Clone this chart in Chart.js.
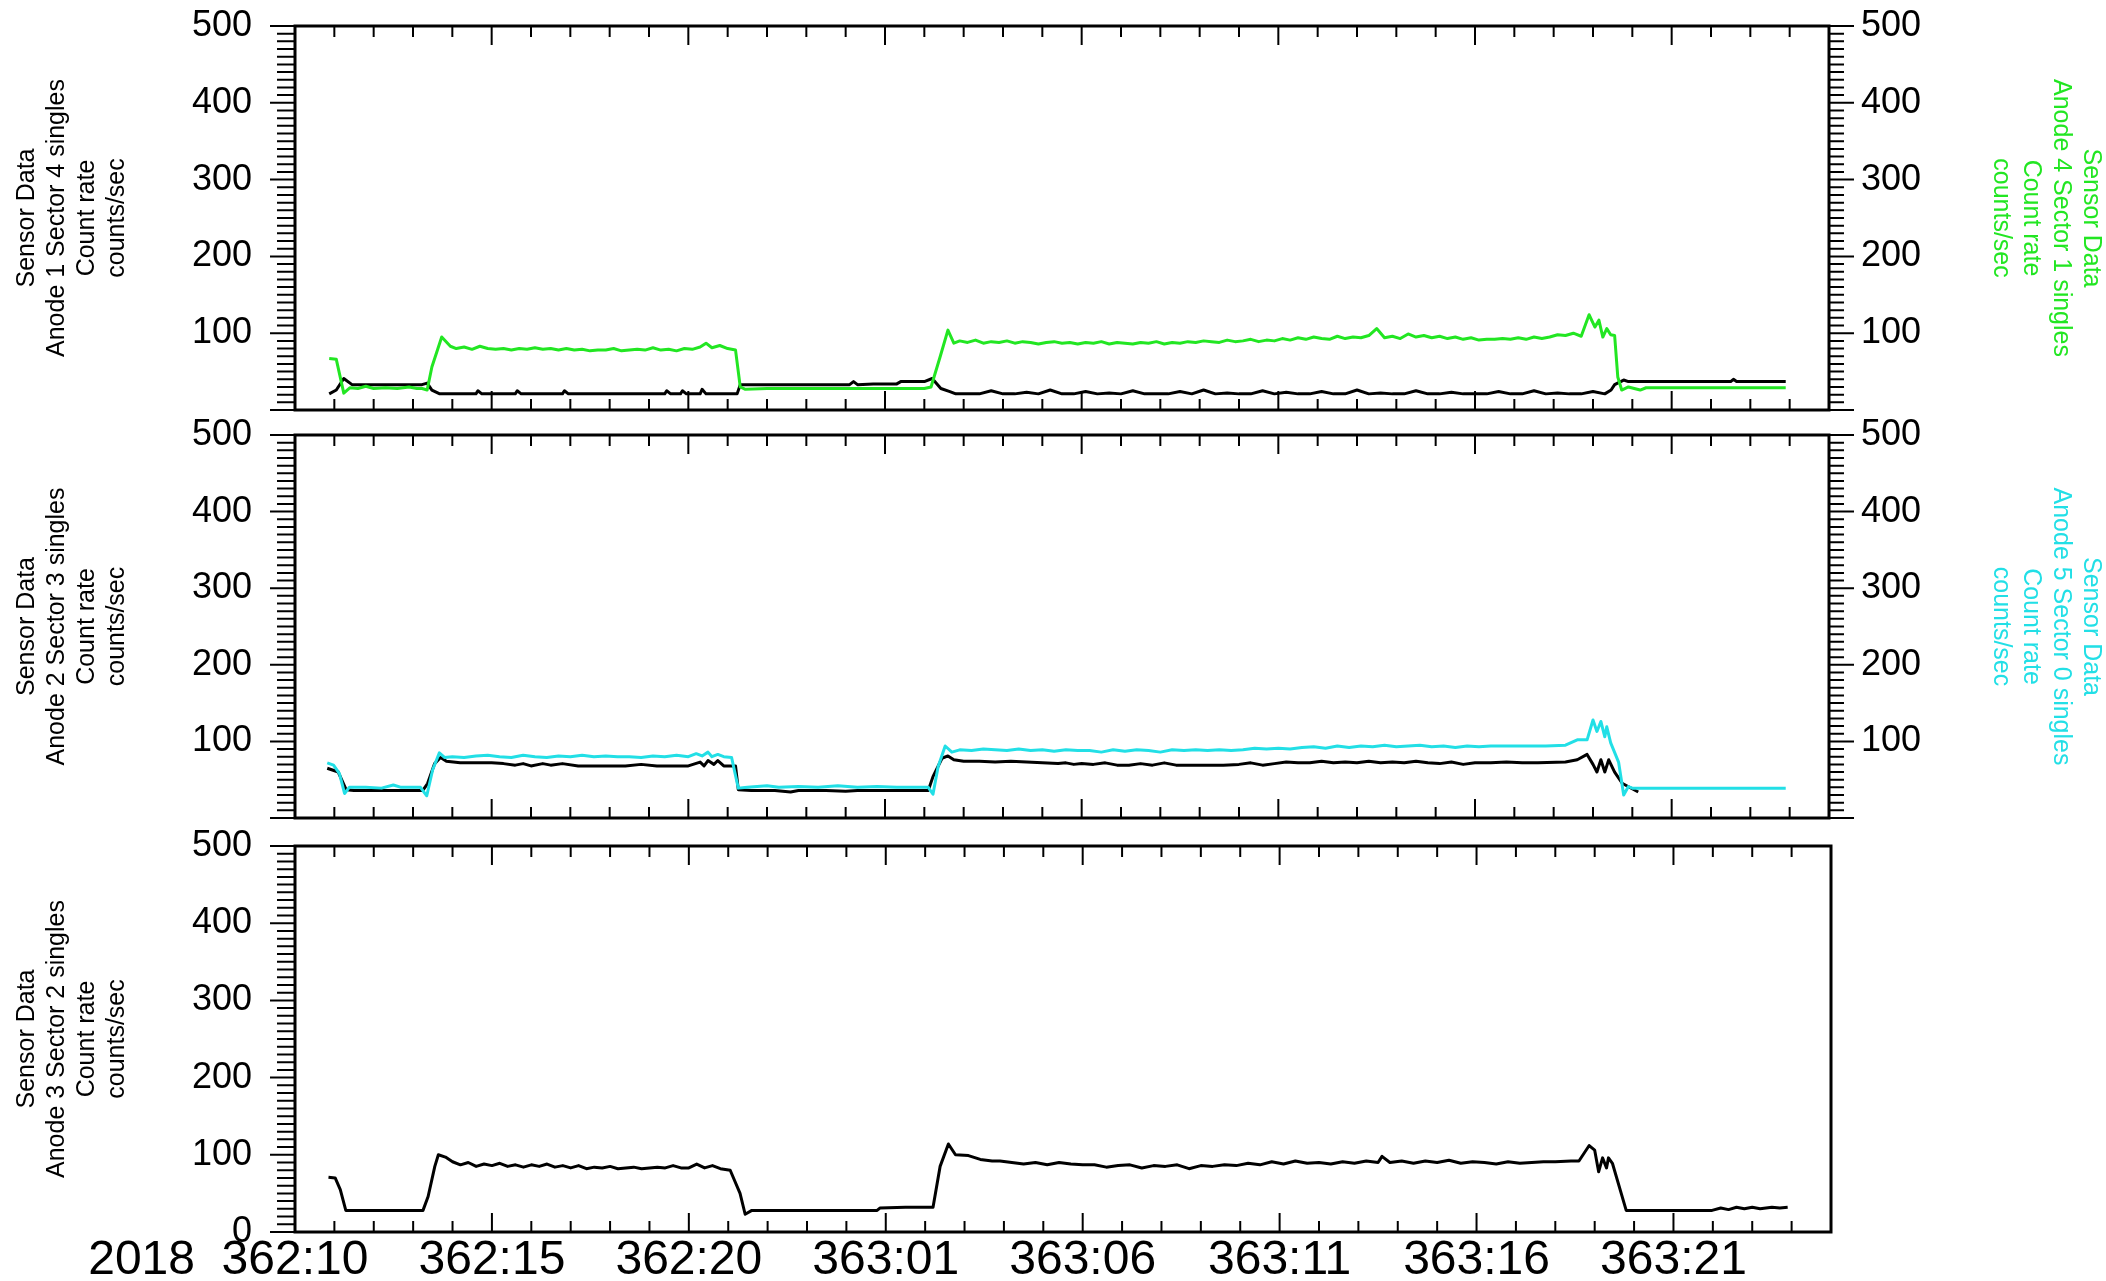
<!DOCTYPE html>
<html>
<head>
<meta charset="utf-8">
<title>Sensor Data count rates</title>
<script src="https://cdn.jsdelivr.net/npm/chart.js@4.4.1/dist/chart.umd.min.js"></script>
<style>
  html, body { margin: 0; padding: 0; background: #fff; }
  body { width: 2106px; height: 1281px; position: relative; overflow: hidden; }
  canvas { position: absolute; left: 0; }
</style>
</head>
<body>
<canvas id="panel1" width="2106" height="430" style="top:0px"></canvas>
<canvas id="panel2" width="2106" height="440" style="top:400px"></canvas>
<canvas id="panel3" width="2106" height="481" style="top:800px"></canvas>
<script>
const FONT = "'Liberation Sans', Arial, Helvetica, sans-serif";
const GREEN = '#22e622';
const CYAN = '#22dfe6';

// x is hours after 362:10 (day:hour), axis ends at 364:01
const hourMin = 0;
const hourMax = 39;
const timeTicks = [0, 5, 10, 15, 20, 25, 30, 35];
const timeLabels = ['362:10', '362:15', '362:20', '363:01', '363:06', '363:11', '363:16', '363:21'];
const yearLabel = '2018';
const rateTicks = [0, 100, 200, 300, 400, 500];

// [hour, counts/sec]
// Anode 1 Sector 4 singles
const a1s4 = [
  [0.87, 21], [1.05, 26], [1.24, 41], [1.45, 33], [2.0, 33], [2.6, 33], [3.23, 33], [3.36, 35], [3.48, 26], [3.68, 21],
  [4.6, 21], [4.65, 25], [4.75, 21], [5.6, 21], [5.65, 25], [5.75, 21], [6.8, 21], [6.85, 25], [6.95, 21],
  [9.4, 21], [9.45, 25], [9.55, 21], [9.8, 21], [9.85, 25], [9.95, 21], [10.3, 21], [10.35, 27], [10.45, 21],
  [11.24, 21], [11.32, 33], [12.5, 33], [14.1, 33], [14.2, 37], [14.3, 33], [14.7, 34], [15.3, 34], [15.4, 37], [16.0, 37],
  [16.2, 41], [16.42, 28], [16.65, 24], [16.8, 21],
  [17.1, 21], [17.4, 21], [17.7, 25], [18.0, 21], [18.3, 21], [18.6, 23], [18.9, 21], [19.2, 26], [19.5, 21], [19.8, 21],
  [20.1, 24], [20.4, 21], [20.7, 22], [21.0, 21], [21.3, 25], [21.6, 21], [21.9, 21], [22.2, 21], [22.5, 24], [22.8, 21],
  [23.1, 26], [23.4, 21], [23.7, 22], [24.0, 21], [24.3, 21], [24.6, 25], [24.9, 21], [25.2, 23], [25.5, 21], [25.8, 21],
  [26.1, 24], [26.4, 21], [26.7, 21], [27.0, 26], [27.3, 21], [27.6, 22], [27.9, 21], [28.2, 21], [28.5, 25], [28.8, 21],
  [29.1, 21], [29.4, 23], [29.7, 21], [30.0, 21], [30.3, 21], [30.6, 24], [30.9, 21], [31.2, 21], [31.5, 25], [31.8, 21],
  [32.1, 22], [32.4, 21], [32.7, 21], [33.0, 24], [33.3, 21],
  [33.46, 26], [33.55, 33], [33.78, 39], [33.9, 37], [36.5, 37], [36.57, 40], [36.65, 37], [37.9, 37]
];

// Anode 4 Sector 1 singles
const a4s1 = [
  [0.87, 67], [1.05, 66], [1.24, 22], [1.4, 29], [1.6, 28], [1.8, 31], [2.0, 28], [2.3, 29], [2.6, 28], [2.9, 30],
  [3.1, 28], [3.23, 28], [3.36, 26], [3.48, 56], [3.73, 95], [3.95, 83],
  [4.1, 80], [4.3, 82], [4.5, 79], [4.7, 83], [4.9, 80], [5.1, 79], [5.3, 80], [5.5, 78], [5.7, 80], [5.9, 79],
  [6.1, 81], [6.3, 79], [6.5, 80], [6.7, 78], [6.9, 80], [7.1, 78], [7.3, 79], [7.5, 77], [7.7, 78], [7.9, 78],
  [8.1, 80], [8.3, 77], [8.5, 78], [8.7, 79], [8.9, 78], [9.1, 81], [9.3, 78], [9.5, 79], [9.7, 77], [9.9, 80],
  [10.1, 79], [10.3, 82], [10.45, 87], [10.6, 81], [10.8, 84], [11.0, 80], [11.2, 78],
  [11.32, 30], [11.45, 27], [12.0, 28], [13.0, 28], [14.0, 28], [15.0, 28], [16.0, 28], [16.17, 30],
  [16.4, 69], [16.6, 104], [16.75, 87],
  [16.9, 90], [17.1, 88], [17.3, 91], [17.5, 87], [17.7, 89], [17.9, 88], [18.1, 90], [18.3, 87], [18.5, 89], [18.7, 88],
  [18.9, 86], [19.1, 88], [19.3, 89], [19.5, 87], [19.7, 88], [19.9, 86], [20.1, 88], [20.3, 87], [20.5, 89], [20.7, 86],
  [20.9, 88], [21.1, 87], [21.3, 86], [21.5, 88], [21.7, 87], [21.9, 89], [22.1, 86], [22.3, 88], [22.5, 87], [22.7, 89],
  [22.9, 88], [23.1, 90], [23.3, 89], [23.5, 88], [23.7, 91], [23.9, 89], [24.1, 90], [24.3, 92], [24.5, 89], [24.7, 91],
  [24.9, 90], [25.1, 93], [25.3, 91], [25.5, 94], [25.7, 92], [25.9, 95], [26.1, 93], [26.3, 92], [26.5, 96], [26.7, 93],
  [26.9, 95], [27.1, 94], [27.3, 97], [27.5, 106], [27.7, 94], [27.9, 96], [28.1, 93], [28.3, 99], [28.5, 95], [28.7, 97],
  [28.9, 94], [29.1, 96], [29.3, 93], [29.5, 95], [29.7, 92], [29.9, 94], [30.1, 91], [30.3, 92], [30.5, 92], [30.7, 93],
  [30.9, 92], [31.1, 94], [31.3, 92], [31.5, 95], [31.7, 93], [31.9, 95], [32.1, 98], [32.3, 97], [32.5, 100], [32.7, 96],
  [32.9, 124], [33.05, 108], [33.15, 117], [33.25, 95], [33.35, 106], [33.45, 98], [33.55, 97],
  [33.63, 43], [33.73, 26], [33.9, 30], [34.2, 26], [34.35, 29], [35.0, 29], [36.0, 29], [37.0, 29], [37.9, 29]
];

// Anode 2 Sector 3 singles
const a2s3 = [
  [0.82, 65], [1.1, 60], [1.3, 37], [1.5, 36], [2.0, 36], [2.6, 36], [3.25, 36], [3.37, 45], [3.55, 71], [3.7, 79],
  [3.85, 74], [4.2, 72], [4.6, 72], [5.0, 72], [5.3, 71], [5.6, 69], [5.8, 71], [6.0, 68], [6.3, 71], [6.5, 69],
  [6.8, 71], [7.2, 68], [7.6, 68], [8.0, 68], [8.4, 68], [8.8, 70], [9.2, 68], [9.6, 68], [10.0, 68], [10.3, 73],
  [10.4, 68], [10.5, 75], [10.65, 70], [10.75, 75], [10.9, 68], [11.2, 68],
  [11.27, 37], [11.6, 36], [12.2, 36], [12.6, 34], [12.8, 36], [13.5, 36], [14.0, 35], [14.3, 36], [15.0, 36], [16.1, 36],
  [16.22, 54], [16.45, 78], [16.6, 81], [16.75, 76], [17.0, 74], [17.4, 74], [17.8, 73], [18.2, 74], [18.6, 73], [19.0, 72],
  [19.4, 71], [19.6, 72], [19.8, 70], [20.0, 71], [20.3, 70], [20.6, 72], [20.9, 69], [21.2, 69], [21.5, 71], [21.8, 69],
  [22.1, 72], [22.4, 69], [22.7, 69], [23.0, 69], [23.3, 69], [23.6, 69], [24.0, 70], [24.3, 72], [24.6, 69], [24.9, 71],
  [25.2, 73], [25.5, 72], [25.8, 72], [26.1, 74], [26.4, 72], [26.7, 73], [27.0, 72], [27.3, 74], [27.6, 72], [27.9, 73],
  [28.2, 72], [28.5, 74], [28.8, 72], [29.1, 71], [29.4, 73], [29.7, 70], [30.0, 72], [30.4, 72], [30.8, 73], [31.2, 72],
  [31.6, 72], [32.3, 73], [32.6, 76], [32.85, 83], [33.0, 70], [33.1, 60], [33.2, 76], [33.3, 60], [33.4, 76], [33.55, 60],
  [33.75, 45], [34.15, 34]
];

// Anode 5 Sector 0 singles
const a5s0 = [
  [0.82, 72], [0.98, 69], [1.13, 58], [1.26, 32], [1.38, 40], [1.8, 40], [2.2, 39], [2.5, 43], [2.7, 40], [3.19, 40],
  [3.35, 29], [3.5, 63], [3.67, 85], [3.8, 79], [4.0, 80], [4.3, 79], [4.6, 81], [4.9, 82], [5.2, 80], [5.5, 79],
  [5.8, 82], [6.1, 80], [6.4, 79], [6.7, 81], [7.0, 80], [7.3, 82], [7.6, 80], [7.9, 81], [8.2, 80], [8.5, 80],
  [8.8, 79], [9.1, 81], [9.4, 80], [9.7, 82], [10.0, 80], [10.2, 84], [10.35, 81], [10.5, 86], [10.6, 80], [10.75, 83],
  [10.9, 80], [11.1, 79],
  [11.27, 39], [11.5, 40], [12.0, 42], [12.3, 40], [12.8, 41], [13.3, 40], [13.8, 42], [14.3, 40], [14.8, 41], [15.3, 40],
  [16.1, 40], [16.22, 31], [16.35, 67], [16.53, 94], [16.7, 86], [16.9, 89], [17.2, 88], [17.5, 90], [17.8, 89], [18.1, 88],
  [18.4, 90], [18.7, 88], [19.0, 89], [19.3, 87], [19.6, 89], [19.9, 88], [20.2, 88], [20.5, 86], [20.8, 89], [21.1, 87],
  [21.4, 89], [21.7, 88], [22.0, 86], [22.3, 89], [22.6, 88], [22.9, 89], [23.2, 88], [23.5, 89], [23.8, 88], [24.1, 89],
  [24.4, 91], [24.7, 90], [25.0, 91], [25.3, 90], [25.6, 92], [25.9, 93], [26.2, 91], [26.5, 94], [26.8, 92], [27.1, 94],
  [27.4, 93], [27.7, 95], [28.0, 93], [28.3, 94], [28.6, 95], [28.9, 93], [29.2, 94], [29.5, 92], [29.8, 94], [30.1, 93],
  [30.4, 94], [30.7, 94], [31.0, 94], [31.4, 94], [31.8, 94], [32.3, 95], [32.6, 102], [32.85, 102], [33.0, 128], [33.1, 113],
  [33.2, 126], [33.3, 106], [33.35, 119], [33.45, 98], [33.65, 73], [33.78, 30], [33.9, 41], [34.0, 39], [35.0, 39], [36.0, 39],
  [37.0, 39], [37.9, 39]
];

// Anode 3 Sector 2 singles
const a3s2 = [
  [0.85, 71], [1.02, 70], [1.15, 55], [1.29, 28], [2.0, 28], [2.8, 28], [3.25, 28], [3.38, 46], [3.55, 85], [3.64, 100],
  [3.82, 97], [4.0, 91], [4.2, 87], [4.4, 90], [4.6, 85], [4.8, 88], [5.0, 86], [5.2, 89], [5.4, 85], [5.6, 87],
  [5.8, 84], [6.0, 87], [6.2, 85], [6.4, 88], [6.6, 84], [6.8, 86], [7.0, 83], [7.2, 86], [7.4, 82], [7.6, 84],
  [7.8, 83], [8.0, 85], [8.2, 82], [8.4, 83], [8.6, 84], [8.8, 82], [9.0, 83], [9.2, 84], [9.4, 83], [9.6, 86],
  [9.8, 83], [10.0, 83], [10.2, 88], [10.4, 83], [10.6, 86], [10.8, 82], [11.05, 80], [11.3, 50], [11.43, 23], [11.6, 28],
  [12.5, 28], [13.5, 28], [14.5, 28], [14.78, 28], [14.85, 31], [15.5, 32], [16.2, 32], [16.38, 85], [16.59, 114], [16.77, 100],
  [17.1, 99], [17.4, 94], [17.7, 92], [17.9, 92], [18.2, 90], [18.5, 88], [18.8, 90], [19.1, 87], [19.4, 90], [19.7, 88],
  [20.0, 87], [20.3, 87], [20.6, 84], [20.9, 86], [21.2, 87], [21.5, 83], [21.8, 86], [22.1, 85], [22.4, 87], [22.7, 82],
  [23.0, 86], [23.3, 85], [23.6, 87], [23.9, 86], [24.2, 89], [24.5, 87], [24.8, 91], [25.1, 88], [25.4, 92], [25.7, 89],
  [26.0, 90], [26.3, 88], [26.6, 91], [26.9, 89], [27.2, 92], [27.5, 90], [27.6, 98], [27.8, 90], [28.1, 92], [28.4, 89],
  [28.7, 92], [29.0, 90], [29.3, 93], [29.6, 89], [29.9, 91], [30.2, 90], [30.5, 88], [30.8, 91], [31.1, 89], [31.4, 90],
  [31.7, 91], [32.0, 91], [32.4, 92], [32.6, 92], [32.86, 112], [33.0, 106], [33.1, 78], [33.2, 96], [33.3, 83], [33.35, 96],
  [33.45, 89], [33.8, 28], [34.5, 28], [35.2, 28], [35.98, 28], [36.2, 31], [36.4, 29], [36.6, 32], [36.8, 30], [37.0, 32],
  [37.2, 30], [37.5, 32], [37.7, 31], [37.9, 32]
];

const TIME_FONT = 48;
const RATE_FONT = 36;
const TITLE_FONT = 25;

// IDL-style frame: inward hour ticks, outward rate ruler, boxed plot area
const frame = {
  id: 'frame',
  afterDatasetsDraw(chart, args, opts) {
    const { ctx, chartArea: a } = chart;
    const x = chart.scales.x;
    const y = chart.scales.y;
    ctx.save();
    ctx.strokeStyle = '#000';
    ctx.lineWidth = 2;
    ctx.beginPath();
    for (let h = hourMin; h <= hourMax; h++) {
      const px = x.getPixelForValue(h);
      const len = h % 5 === 0 ? 19 : 11;
      ctx.moveTo(px, a.bottom);
      ctx.lineTo(px, a.bottom - len);
      ctx.moveTo(px, a.top);
      ctx.lineTo(px, a.top + len);
    }
    for (let v = 0; v <= 500; v += 10) {
      const py = y.getPixelForValue(v);
      const major = v % 100 === 0;
      ctx.moveTo(a.left - (major ? 25 : 18), py);
      ctx.lineTo(a.left, py);
      if (opts.rightRuler) {
        ctx.moveTo(a.right, py);
        ctx.lineTo(a.right + (major ? 25 : 15), py);
      }
    }
    ctx.stroke();
    ctx.lineWidth = 3;
    ctx.strokeRect(a.left, a.top, a.width, a.height);
    if (opts.year) {
      ctx.fillStyle = '#000';
      ctx.font = TIME_FONT + 'px ' + FONT;
      ctx.textAlign = 'right';
      ctx.textBaseline = 'middle';
      ctx.fillText(opts.year, a.left - 100, x.top + TIME_FONT * 1.2 / 2);
    }
    ctx.restore();
  }
};

function series(points, color, axis) {
  return {
    data: points.map(p => ({ x: p[0], y: p[1] })),
    borderColor: color,
    borderWidth: 3,
    borderJoinStyle: 'round',
    pointRadius: 0,
    tension: 0,
    fill: false,
    yAxisID: axis
  };
}

function rateAxis(position, title, titleColor, showZero) {
  const left = position === 'left';
  return {
    position: position,
    min: 0,
    max: 500,
    afterBuildTicks: s => { s.ticks = rateTicks.map(v => ({ value: v })); },
    afterFit: s => {
      s.width = left ? 295 : 277;
      // keep label overhang from shrinking the plot box
      s.paddingTop = 0;
      s.paddingBottom = 0;
    },
    grid: { display: false, drawTicks: false },
    border: { display: false },
    ticks: {
      padding: left ? 43 : 32,
      color: '#000',
      font: { family: FONT, size: RATE_FONT },
      callback: v => (v === 0 && !showZero) ? '' : String(v)
    },
    title: {
      display: true,
      text: title,
      color: titleColor,
      font: { family: FONT, size: TITLE_FONT, lineHeight: 1.2 },
      padding: { top: left ? 12 : 0, bottom: 0 }
    }
  };
}

function makePanel(id, cfg) {
  const scales = {
    x: {
      type: 'linear',
      min: hourMin,
      max: hourMax,
      display: cfg.showTime,
      grid: { display: false, drawTicks: false },
      border: { display: false },
      afterBuildTicks: s => { s.ticks = timeTicks.map(v => ({ value: v })); },
      afterFit: s => { s.height = cfg.showTime ? 49 : 0; },
      ticks: {
        autoSkip: false,
        maxRotation: 0,
        padding: 0,
        color: '#000',
        font: { family: FONT, size: TIME_FONT },
        callback: v => timeLabels[timeTicks.indexOf(v)]
      }
    },
    y: rateAxis('left', cfg.leftTitle, '#000', cfg.showZero)
  };
  if (cfg.rightTitle) {
    scales.yRight = rateAxis('right', cfg.rightTitle, cfg.rightColor, false);
  }

  return new Chart(document.getElementById(id), {
    type: 'line',
    data: { datasets: cfg.datasets },
    options: {
      responsive: false,
      animation: false,
      devicePixelRatio: 1,
      layout: { padding: cfg.padding },
      scales: scales,
      plugins: {
        legend: { display: false },
        tooltip: { enabled: false },
        frame: { rightRuler: !!cfg.rightTitle, year: cfg.showTime ? yearLabel : null }
      }
    },
    plugins: [frame]
  });
}

makePanel('panel1', {
  padding: { top: 26, bottom: 20, left: 0, right: 0 },
  leftTitle: ['Sensor Data', 'Anode 1 Sector 4 singles', 'Count rate', 'counts/sec'],
  rightTitle: ['Sensor Data', 'Anode 4 Sector 1 singles', 'Count rate', 'counts/sec'],
  rightColor: GREEN,
  showTime: false,
  showZero: false,
  datasets: [series(a4s1, GREEN, 'yRight'), series(a1s4, '#000', 'y')]
});

makePanel('panel2', {
  padding: { top: 35, bottom: 22, left: 0, right: 0 },
  leftTitle: ['Sensor Data', 'Anode 2 Sector 3 singles', 'Count rate', 'counts/sec'],
  rightTitle: ['Sensor Data', 'Anode 5 Sector 0 singles', 'Count rate', 'counts/sec'],
  rightColor: CYAN,
  showTime: false,
  showZero: false,
  datasets: [series(a5s0, CYAN, 'yRight'), series(a2s3, '#000', 'y')]
});

makePanel('panel3', {
  padding: { top: 46, bottom: 0, left: 0, right: 275 },
  leftTitle: ['Sensor Data', 'Anode 3 Sector 2 singles', 'Count rate', 'counts/sec'],
  rightTitle: null,
  showTime: true,
  showZero: true,
  datasets: [series(a3s2, '#000', 'y')]
});
</script>
</body>
</html>
